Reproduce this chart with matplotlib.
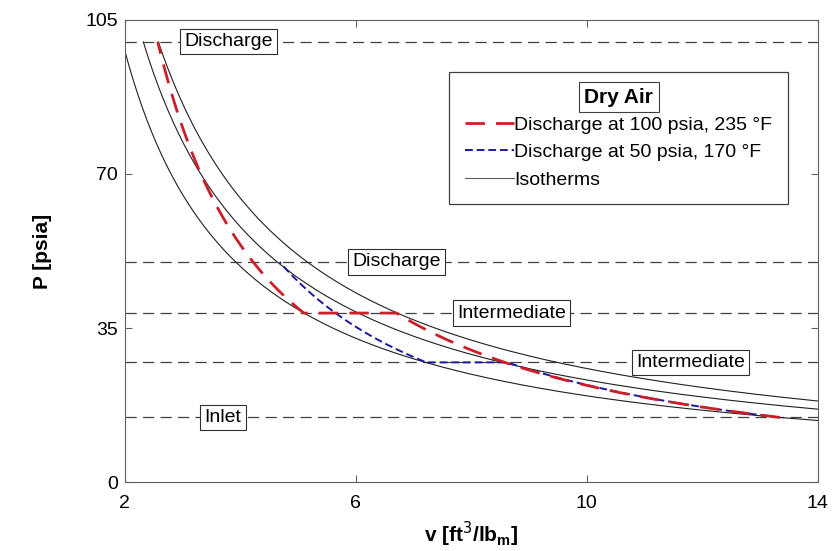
import numpy as np
import matplotlib.pyplot as plt
from matplotlib.lines import Line2D

plt.rcParams['font.family'] = ['Liberation Sans', 'DejaVu Sans']

# state points (v [ft3/lbm], P [psia])
red_v = [13.34, 6.70, 5.10, 2.57]
red_P = [14.7, 38.4, 38.4, 100.0]
blue_v = [13.34, 8.62, 7.22, 4.68]
blue_P = [14.7, 27.2, 27.2, 50.0]

# isotherms, P*v constants
iso_C = [196.0, 232.0, 258.0]

# reference pressure lines and their labels
ref_P = [14.7, 27.2, 38.4, 50.0, 100.0]
ref_labels = ['Inlet', 'Intermediate', 'Intermediate', 'Discharge', 'Discharge']
ref_label_v = [3.7, 11.8, 8.7, 6.7, 3.8]


def path(vs, Ps):
    # compression legs follow P v^n = const between corner points, cooling legs are flat
    xx, yy = [], []
    for i in range(len(vs) - 1):
        v0, v1, p0, p1 = vs[i], vs[i + 1], Ps[i], Ps[i + 1]
        if p0 == p1:
            xs = np.array([v0, v1])
            ys = np.array([p0, p1])
        else:
            n = np.log(p1 / p0) / np.log(v0 / v1)
            xs = np.linspace(v0, v1, 200)
            ys = p0 * (v0 / xs) ** n
        xx.extend(xs)
        yy.extend(ys)
    return np.array(xx), np.array(yy)


fig = plt.figure(figsize=(8.32, 5.51), dpi=100)
ax = fig.add_axes([0.150, 0.125, 0.833, 0.839])

for p, lab, lv in zip(ref_P, ref_labels, ref_label_v):
    ax.axhline(p, color='#404040', lw=0.9, dashes=(9, 5), zorder=1)
    ax.text(lv, p, lab, ha='center', va='center', fontsize=14, zorder=5,
            bbox=dict(fc='white', ec='#303030', lw=0.8, pad=3.0))

for c in iso_C:
    vv = np.linspace(max(c / 100.0, 2.0), 14, 400)
    ax.plot(vv, c / vv, color='#202020', lw=0.8, zorder=2)

bx, by = path(blue_v, blue_P)
ax.plot(bx, by, color='#1a1aa0', lw=1.4, dashes=(4, 2), zorder=3)
rx, ry = path(red_v, red_P)
ax.plot(rx, ry, color='#cc1f2a', lw=2.0, dashes=(7, 4), zorder=4)

ax.set_xlim(2, 14)
ax.set_ylim(0, 105)
ax.set_xticks([2, 6, 10, 14])
ax.set_yticks([0, 35, 70, 105])
ax.tick_params(direction='in', labelsize=14, top=True, right=True, length=5, color='#606060')
ax.tick_params(axis='x', pad=9)
ax.tick_params(axis='y', pad=5)
for s in ax.spines.values():
    s.set_color('#606060')

ax.set_xlabel('v [ft$^3$/lb$_\\mathregular{m}$]', fontsize=15, fontweight='bold', labelpad=6)
ax.set_ylabel('P [psia]', fontsize=15, fontweight='bold', labelpad=24)

handles = [Line2D([], [], color='#cc1f2a', lw=2.0, dashes=(7, 4)),
           Line2D([], [], color='#1a1aa0', lw=1.4, dashes=(4, 2)),
           Line2D([], [], color='#606060', lw=0.8)]
labels = ['Discharge at 100 psia, 235 °F', 'Discharge at 50 psia, 170 °F', 'Isotherms']
leg = ax.legend(handles, labels, loc='upper right', bbox_to_anchor=(0.957, 0.887),
                title='Dry Air', title_fontproperties={'weight': 'bold', 'size': 15},
                fontsize=14, handlelength=2.5, handletextpad=0.05, fancybox=False,
                edgecolor='#404040', framealpha=1, borderpad=0.8, labelspacing=0.5,
                borderaxespad=0)
leg.get_frame().set_linewidth(0.9)
leg.get_title().set_bbox(dict(fc='white', ec='#404040', lw=0.8, pad=4))
leg.set_zorder(6)

fig.savefig('out.png', dpi=100)
